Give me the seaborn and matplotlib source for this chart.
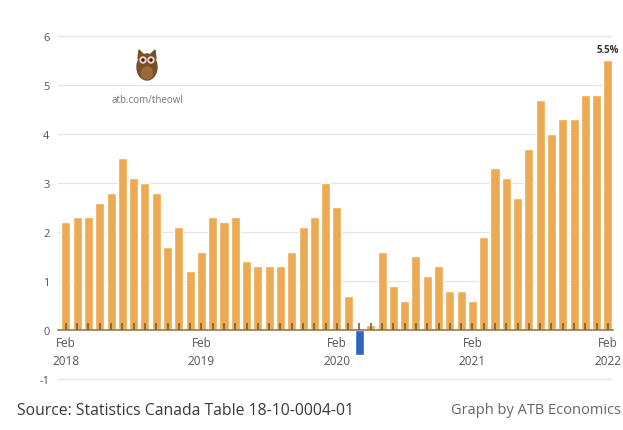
import matplotlib
matplotlib.use("Agg")
import matplotlib.pyplot as plt
from matplotlib.patches import Ellipse, Polygon
import numpy as np
import pandas as pd
import seaborn as sns

# Year-over-year CPI change (%), monthly, Feb 2018 - Feb 2022
months = pd.date_range("2018-02-01", "2022-02-01", freq="MS")
cpi_change = [
    2.2, 2.3, 2.3, 2.6, 2.8, 3.5, 3.1, 3.0, 2.8, 1.7, 2.1, 1.2,   # Feb 18 - Jan 19
    1.6, 2.3, 2.2, 2.3, 1.4, 1.3, 1.3, 1.3, 1.6, 2.1, 2.3, 3.0,   # Feb 19 - Jan 20
    2.5, 0.7, -0.5, 0.1, 1.6, 0.9, 0.6, 1.5, 1.1, 1.3, 0.8, 0.8,  # Feb 20 - Jan 21
    0.6, 1.9, 3.3, 3.1, 2.7, 3.7, 4.7, 4.0, 4.3, 4.3, 4.8, 4.8,   # Feb 21 - Jan 22
    5.5,                                                          # Feb 22
]
tick_labels = ["Feb\n2018", "Feb\n2019", "Feb\n2020", "Feb\n2021", "Feb\n2022"]
y_ticks = [-1, 0, 1, 2, 3, 4, 5, 6]

ORANGE = "#ECAB52"
BLUE = "#2E67BF"
GREY_TXT = "#555555"

sns.set_theme(style="white")
plt.rcParams["font.family"] = ["Open Sans", "DejaVu Sans"]

df = pd.DataFrame({"pos": np.arange(len(cpi_change)), "value": cpi_change})
df["sign"] = np.where(df["value"] < 0, "neg", "pos")

fig = plt.figure(figsize=(6.23, 4.31), dpi=100)
ax = fig.add_axes([58 / 623, 1 - 382.5 / 431, (613 - 58) / 623, (382.5 - 32) / 431])

# light horizontal guides behind the bars
for t in y_ticks:
    if t != 0:
        ax.axhline(t, color="#e4e4e4", linewidth=0.9, zorder=0)

sns.barplot(data=df, x="pos", y="value", hue="sign",
            palette={"pos": ORANGE, "neg": BLUE}, dodge=False,
            width=0.8, legend=False, ax=ax, saturation=1, native_scale=True)

ax.set_xlim(-0.7, 48.45)
ax.set_ylim(-1.05, 6.1)
ax.set_axisbelow(False)

ax.set_yticks(y_ticks)
ax.set_yticklabels([str(t) for t in y_ticks], fontsize=8, color=GREY_TXT)

# x axis sits on zero, with a small tick at every month
for s in ["top", "right", "left"]:
    ax.spines[s].set_visible(False)
ax.spines["bottom"].set_position(("data", 0))
ax.spines["bottom"].set_color("#9c7a45")
ax.spines["bottom"].set_linewidth(1.2)
ax.set_xticks(np.arange(len(cpi_change)), minor=True)
ax.set_xticks([0, 12, 24, 36, 48])
ax.set_xticklabels(tick_labels, fontsize=8.5, color=GREY_TXT, linespacing=1.5)
ax.tick_params(axis="x", which="both", bottom=True, direction="in", length=5,
               width=1.2, color="#7a5e35", pad=4)
ax.tick_params(axis="y", left=False, length=0, pad=6)
ax.set_xlabel("")
ax.set_ylabel("")

# value label on the latest month
ax.text(48, cpi_change[-1] + 0.12, f"{cpi_change[-1]}%", ha="center", va="bottom",
        fontsize=7, fontweight="bold", color="#333333")

# owl mascot and link
oax = fig.add_axes([0, 0, 1, 1], facecolor="none")
oax.set_xlim(0, 623)
oax.set_ylim(431, 0)
oax.axis("off")
oax.add_patch(Ellipse((147, 68), 20, 26, color="#7b4f24"))
oax.add_patch(Polygon([[138, 60], [139, 51], [144, 56]], color="#7b4f24"))
oax.add_patch(Polygon([[156, 60], [155, 51], [150, 56]], color="#7b4f24"))
oax.add_patch(Ellipse((143, 61), 6, 6, color="#f1d6d6"))
oax.add_patch(Ellipse((151, 61), 6, 6, color="#f1d6d6"))
oax.add_patch(Ellipse((143, 61), 2.2, 2.2, color="#3a2412"))
oax.add_patch(Ellipse((151, 61), 2.2, 2.2, color="#3a2412"))
oax.add_patch(Ellipse((147, 74), 11, 12, color="#9a6a3a"))
oax.text(147, 101, "atb.com/theowl", ha="center", va="center",
         fontsize=7, color="#777777")

# footer
fig.text(17 / 623, 1 - 411 / 431, "Source: Statistics Canada Table 18-10-0004-01",
         ha="left", va="center", fontsize=11.3, color="#3a3a3a")
fig.text(621 / 623, 1 - 411 / 431, "Graph by ATB Economics",
         ha="right", va="center", fontsize=10.5, color="#666666")

fig.savefig("out.png", dpi=100)
